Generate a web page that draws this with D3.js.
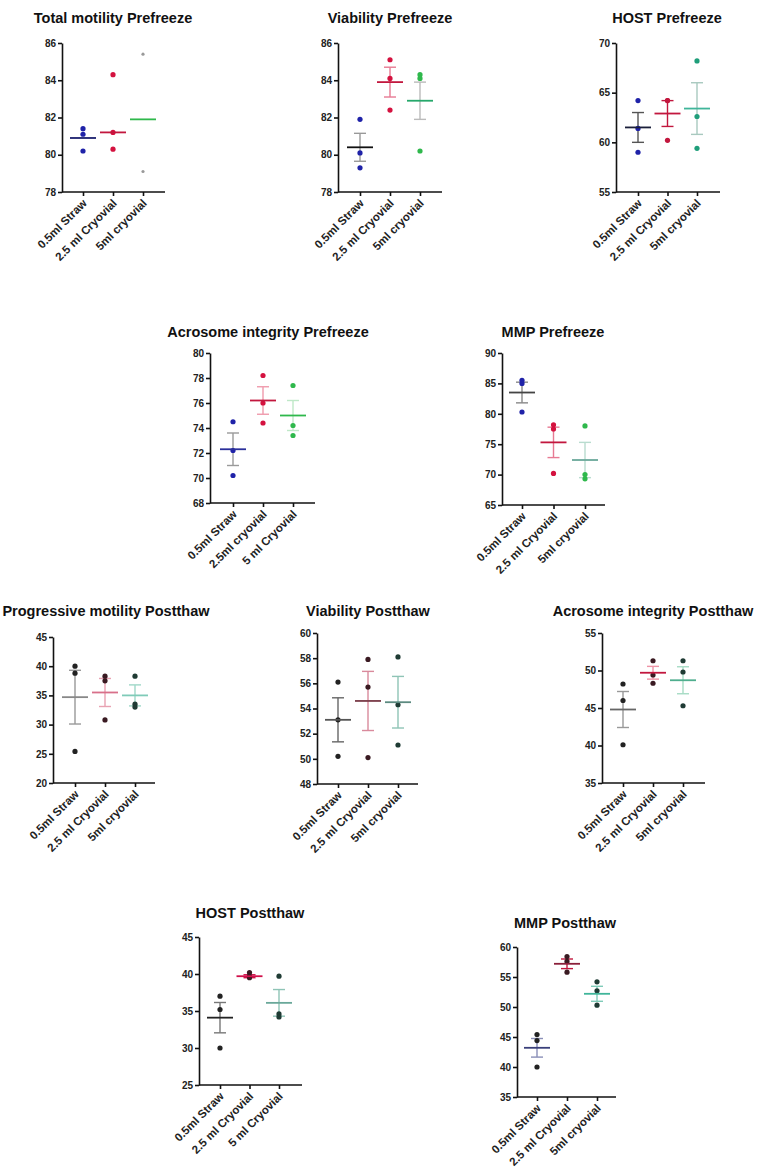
<!DOCTYPE html>
<html>
<head>
<meta charset="utf-8">
<script src="https://cdn.jsdelivr.net/npm/d3@7"></script>
<style>
  body { margin: 0; background: #fff; }
  svg { display: block; }
  .axis path, .axis line { stroke: #111; stroke-width: 1.6; }
  .axis text { font-family: "Liberation Sans", Arial, sans-serif; font-weight: bold; font-size: 10px; fill: #222; }
  .axis.x text { font-size: 11.5px; }
  .title { font-family: "Liberation Sans", Arial, sans-serif; font-weight: bold; font-size: 14.5px; fill: #111; }
</style>
</head>
<body>
<script>
// ---- data ----
const titles = [
  "Total motility Prefreeze", "Viability Prefreeze", "HOST Prefreeze",
  "Acrosome integrity Prefreeze", "MMP Prefreeze",
  "Progressive motility Postthaw", "Viability Postthaw", "Acrosome integrity Postthaw",
  "HOST Postthaw", "MMP Postthaw"
];

const groupLabels = [
  ["0.5ml Straw", "2.5 ml Cryovial", "5ml cryovial"],
  ["0.5ml Straw", "2.5 ml Cryovial", "5ml cryovial"],
  ["0.5ml Straw", "2.5 ml Cryovial", "5ml cryovial"],
  ["0.5ml Straw", "2.5ml cryovial", "5 ml Cryovial"],
  ["0.5ml Straw", "2.5 ml Cryovial", "5ml cryovial"],
  ["0.5ml Straw", "2.5 ml Cryovial", "5ml cryovial"],
  ["0.5ml Straw", "2.5 ml Cryovial", "5ml cryovial"],
  ["0.5ml Straw", "2.5 ml Cryovial", "5ml cryovial"],
  ["0.5ml Straw", "2.5 ml Cryovial", "5 ml Cryovial"],
  ["0.5ml Straw", "2.5 ml Cryovial", "5ml cryovial"]
];

const yTicks = [
  [78, 80, 82, 84, 86],
  [78, 80, 82, 84, 86],
  [55, 60, 65, 70],
  [68, 70, 72, 74, 76, 78, 80],
  [65, 70, 75, 80, 85, 90],
  [20, 25, 30, 35, 40, 45],
  [48, 50, 52, 54, 56, 58, 60],
  [35, 40, 45, 50, 55],
  [25, 30, 35, 40, 45],
  [35, 40, 45, 50, 55, 60]
];

// individual points per group
const points = [
  [[81.4, 81.1, 80.2], [84.3, 81.2, 80.3], [85.4, 79.1]],
  [[81.9, 80.1, 79.3], [85.1, 84.1, 82.4], [84.3, 84.1, 80.2]],
  [[64.2, 61.4, 59.0], [64.2, 64.2, 60.2], [68.2, 62.6, 59.4]],
  [[74.5, 72.2, 70.2], [78.2, 76.0, 74.4], [77.4, 74.2, 73.4]],
  [[85.5, 85.0, 80.3], [78.2, 77.5, 70.2], [78.0, 70.0, 69.3]],
  [[40.0, 38.8, 25.4], [38.3, 37.5, 30.8], [38.3, 33.5, 33.0]],
  [[56.1, 53.1, 50.2], [57.9, 55.7, 50.1], [58.1, 54.3, 51.1]],
  [[48.2, 46.0, 40.1], [51.3, 49.4, 48.3], [51.3, 49.8, 45.3]],
  [[37.0, 35.2, 30.0], [40.2, 39.7, 39.5], [39.7, 34.6, 34.2]],
  [[45.4, 44.4, 40.0], [58.4, 57.6, 55.8], [54.2, 52.7, 50.3]]
];

const means = [
  [80.9, 81.2, 81.9],
  [80.4, 83.9, 82.9],
  [61.5, 62.9, 63.4],
  [72.3, 76.2, 75.0],
  [83.5, 75.3, 72.4],
  [34.7, 35.5, 35.0],
  [53.1, 54.6, 54.5],
  [44.8, 49.7, 48.7],
  [34.1, 39.7, 36.1],
  [43.2, 57.2, 52.2]
];

// standard error of the mean (null = bars not visible)
const sems = [
  [null, null, null],
  [0.75, 0.8, 1.0],
  [1.5, 1.3, 2.6],
  [1.3, 1.1, 1.2],
  [1.7, 2.5, 2.9],
  [4.6, 2.4, 1.8],
  [1.75, 2.35, 2.05],
  [2.4, 0.85, 1.8],
  [2.05, 0.2, 1.8],
  [1.55, 0.8, 1.25]
];

// ---- layout (pixel frames of each panel) ----
const frames = [
  {left: 62,  top: 43,  bottom: 192,  x0: 83,  x2: 143, end: 165, tx: 113, ty: 23},
  {left: 338, top: 43,  bottom: 192,  x0: 360, x2: 420, end: 442, tx: 390, ty: 23},
  {left: 616, top: 43,  bottom: 192,  x0: 638, x2: 697, end: 720, tx: 667, ty: 23},
  {left: 210, top: 353, bottom: 503,  x0: 233, x2: 293, end: 315, tx: 268, ty: 337},
  {left: 502, top: 353, bottom: 505,  x0: 522, x2: 585, end: 605, tx: 553, ty: 337},
  {left: 53,  top: 637, bottom: 783,  x0: 75,  x2: 135, end: 155, tx: 106, ty: 616},
  {left: 317, top: 633, bottom: 784,  x0: 338, x2: 398, end: 418, tx: 368, ty: 616},
  {left: 602, top: 633, bottom: 783,  x0: 623, x2: 683, end: 705, tx: 653, ty: 616},
  {left: 199, top: 937, bottom: 1085, x0: 220, x2: 279, end: 302, tx: 250, ty: 918},
  {left: 517, top: 947, bottom: 1097, x0: 537, x2: 597, end: 616, tx: 565, ty: 928}
];

// colours: dots, mean line, error bars
const preDots  = ["#1f22a8", "#d4123f", "#2fb84c"];
const postDots = ["#222", "#3a1a22", "#1f3b34"];
const styles = [
  {dot: ["#1f22a8", "#d4123f", "#999"],    mean: ["#1b1f6e", "#c2173e", "#2fb84c"], err: ["#bbb", "#f3b4c2", "#cde"]},
  {dot: preDots,                            mean: ["#111", "#c2173e", "#26a86b"],    err: ["#999", "#e77a93", "#bbb"]},
  {dot: ["#1f22a8", "#c2173e", "#1f9e7a"],  mean: ["#1b1f3a", "#c2173e", "#3fb59a"], err: ["#555", "#c2173e", "#a8c9bf"]},
  {dot: preDots,                            mean: ["#2a2f9a", "#c2173e", "#2fb84c"], err: ["#9a9a9a", "#f09aac", "#bfe8c8"]},
  {dot: ["#1f22a8", "#d4123f", "#2fb84c"],  mean: ["#444", "#c2173e", "#6aa89a"],    err: ["#888", "#e77a93", "#b9dccf"]},
  {dot: postDots,                           mean: ["#888", "#d8708a", "#7fcbb8"],    err: ["#999", "#e8a2b2", "#9fd8c8"]},
  {dot: postDots,                           mean: ["#555", "#7a3b48", "#5c8a80"],    err: ["#666", "#d98a9c", "#8fc4b6"]},
  {dot: postDots,                           mean: ["#666", "#c2173e", "#4fae8e"],    err: ["#999", "#ee93a6", "#a6dcc4"]},
  {dot: postDots,                           mean: ["#222", "#d0104a", "#6aa89a"],    err: ["#777", "#d0104a", "#8fc4b6"]},
  {dot: postDots,                           mean: ["#3a3f7a", "#8a1f3a", "#3fb59a"], err: ["#8a8fb8", "#c2173e", "#7fcbb8"]}
];

// ---- draw ----
const svg = d3.select("body").append("svg")
  .attr("width", 767)
  .attr("height", 1170);

function drawPanel(p) {
  let f = frames[p];
  let ticks = yTicks[p];
  let st = styles[p];
  let g = svg.append("g");

  let yScale = d3.scaleLinear()
    .domain([ticks[0], ticks[ticks.length - 1]])
    .range([f.bottom, f.top]);
  let xScale = d3.scalePoint()
    .domain([0, 1, 2])
    .range([f.x0, f.x2]);

  g.append("text")
    .attr("class", "title")
    .attr("x", f.tx)
    .attr("y", f.ty)
    .attr("text-anchor", "middle")
    .text(titles[p]);

  // error bars
  for (let k = 0; k < 3; k++) {
    let s = sems[p][k];
    if (s === null) continue;
    let cx = xScale(k), m = means[p][k];
    let eg = g.append("g").attr("stroke", st.err[k]).attr("stroke-width", 1.4).attr("fill", "none");
    eg.append("line").attr("x1", cx).attr("x2", cx).attr("y1", yScale(m + s)).attr("y2", yScale(m - s));
    [m + s, m - s].forEach(v => {
      eg.append("line").attr("x1", cx - 6).attr("x2", cx + 6).attr("y1", yScale(v)).attr("y2", yScale(v));
    });
  }

  // dots
  points[p].forEach((vals, k) => {
    g.selectAll(null)
      .data(vals)
      .enter()
      .append("circle")
      .attr("cx", xScale(k))
      .attr("cy", d => yScale(d))
      .attr("r", p === 0 && k === 2 ? 1.6 : 2.6)
      .attr("fill", st.dot[k]);
  });

  // means
  g.selectAll(null)
    .data(means[p])
    .enter()
    .append("line")
    .attr("x1", (d, k) => xScale(k) - 13)
    .attr("x2", (d, k) => xScale(k) + 13)
    .attr("y1", d => yScale(d))
    .attr("y2", d => yScale(d))
    .attr("stroke", (d, k) => st.mean[k])
    .attr("stroke-width", 1.8);

  // axes
  g.append("g")
    .attr("class", "axis y")
    .attr("transform", "translate(" + f.left + ",0)")
    .call(d3.axisLeft(yScale).tickValues(ticks).tickSize(4).tickSizeOuter(0).tickPadding(2));

  let xa = g.append("g")
    .attr("class", "axis x")
    .attr("transform", "translate(0," + f.bottom + ")")
    .call(d3.axisBottom(xScale).tickSize(4).tickFormat(k => groupLabels[p][k]));
  xa.select(".domain").attr("d", "M" + f.left + ",0H" + f.end);
  xa.selectAll(".tick text")
    .attr("text-anchor", "end")
    .attr("dy", null)
    .attr("y", 0)
    .attr("transform", "translate(4,12) rotate(-45)");
}

for (let p = 0; p < titles.length; p++) drawPanel(p);
</script>
</body>
</html>
